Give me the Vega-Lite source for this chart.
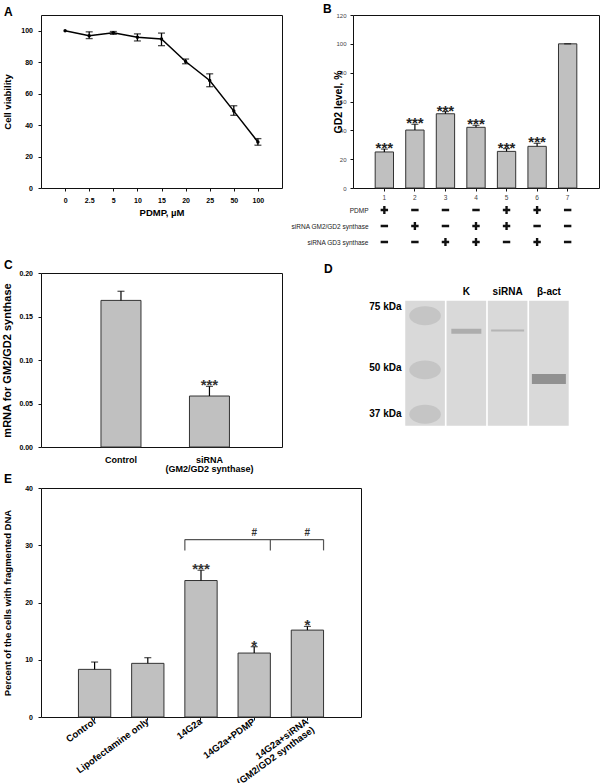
{
  "$schema": "https://vega.github.io/schema/vega-lite/v6.json",
  "padding": {"left": 0, "top": 2, "right": 0, "bottom": 0},
  "config": {
    "font": "Liberation Sans",
    "view": {"stroke": "#111", "strokeWidth": 1},
    "axis": {"grid": false, "domain": false, "labelOverlap": false, "labelFont": "Liberation Sans", "titleFont": "Liberation Sans", "labelColor": "#000", "titleColor": "#000", "tickColor": "#111", "titleFontWeight": "bold", "labelFontWeight": "bold"},
    "title": {"font": "Liberation Sans", "fontWeight": "bold", "color": "#000"}
  },
  "columns": 2,
  "align": "none",
  "bounds": "flush",
  "spacing": {"row": 14, "column": -8},
  "concat": [
    {
      "width": 241, "height": 173,
      "title": {"text": "A", "anchor": "start", "frame": "group", "dx": -37, "dy": 12.5, "offset": 0, "baseline": "alphabetic", "fontSize": 12},
      "data": {"values": [
        {"dose": "0", "v": 100, "lo": null, "hi": null},
        {"dose": "2.5", "v": 96.8, "lo": 95, "hi": 99.3},
        {"dose": "5", "v": 98.7, "lo": 97.7, "hi": 99.5},
        {"dose": "10", "v": 95.8, "lo": 93.5, "hi": 98},
        {"dose": "15", "v": 94.7, "lo": 90.5, "hi": 98.5},
        {"dose": "20", "v": 80.4, "lo": 79, "hi": 82},
        {"dose": "25", "v": 68.4, "lo": 64.4, "hi": 72.6},
        {"dose": "50", "v": 48.9, "lo": 46.2, "hi": 52.3},
        {"dose": "100", "v": 29.3, "lo": 27.2, "hi": 31.4}
      ]},
      "layer": [
        {
          "mark": {"type": "line", "color": "#000", "strokeWidth": 1.5},
          "encoding": {
            "x": {"field": "dose", "type": "ordinal", "scale": {"type": "point", "padding": 1, "domain": ["0", "2.5", "5", "10", "15", "20", "25", "50", "100"]},
                  "axis": {"title": "PDMP, µM", "titleFontSize": 9.5, "titleY": 27.7, "titleBaseline": "alphabetic", "labelAngle": 0, "labelFontSize": 7, "tickSize": 3, "labelPadding": 5.5, "labelOverlap": false}},
            "y": {"field": "v", "type": "quantitative", "scale": {"domain": [0, 110], "nice": false},
                  "axis": {"values": [0, 20, 40, 60, 80, 100], "tickCount": 12, "title": "Cell viability", "titleFontSize": 9.5, "titleX": -29, "labelFontSize": 7, "tickSize": 3, "labelPadding": 5.5, "labelOverlap": false, "labelFlush": false}}
          }
        },
        {
          "mark": {"type": "rule", "color": "#000", "strokeWidth": 1.3},
          "encoding": {"x": {"field": "dose", "type": "ordinal"}, "y": {"field": "lo", "type": "quantitative"}, "y2": {"field": "hi"}}
        },
        {
          "mark": {"type": "tick", "color": "#000", "thickness": 1.3, "size": 7},
          "encoding": {"x": {"field": "dose", "type": "ordinal"}, "y": {"field": "lo", "type": "quantitative"}}
        },
        {
          "mark": {"type": "tick", "color": "#000", "thickness": 1.3, "size": 7},
          "encoding": {"x": {"field": "dose", "type": "ordinal"}, "y": {"field": "hi", "type": "quantitative"}}
        },
        {
          "mark": {"type": "point", "filled": true, "color": "#000", "opacity": 1, "size": 12},
          "encoding": {"x": {"field": "dose", "type": "ordinal"}, "y": {"field": "v", "type": "quantitative"}}
        }
      ]
    },
    {
      "width": 246, "height": 173,
      "title": {"text": "B", "anchor": "start", "frame": "group", "dx": -30, "dy": 12.5, "offset": 0, "baseline": "alphabetic", "fontSize": 12},
      "data": {"values": [
        {"bar": "1", "v": 25, "hi": 27, "star": "***"},
        {"bar": "2", "v": 40.2, "hi": 44.2, "star": "***"},
        {"bar": "3", "v": 51.5, "hi": 53, "star": "***"},
        {"bar": "4", "v": 42.1, "hi": 43.5, "star": "***"},
        {"bar": "5", "v": 25.4, "hi": 27.3, "star": "***"},
        {"bar": "6", "v": 28.9, "hi": 31, "star": "***"},
        {"bar": "7", "v": 100, "hi": 100, "star": ""}
      ]},
      "layer": [
        {
          "mark": {"type": "bar", "fill": "#c0c0c0", "stroke": "#333", "strokeWidth": 1},
          "encoding": {
            "x": {"field": "bar", "type": "ordinal", "scale": {"type": "band", "paddingInner": 0.4, "paddingOuter": 0.726, "domain": ["1", "2", "3", "4", "5", "6", "7"]},
                  "axis": {"title": null, "labelAngle": 0, "labelFontSize": 6.5, "labelFontWeight": "normal", "labelColor": "#444", "tickSize": 3, "labelPadding": 3, "labelOverlap": false}},
            "y": {"field": "v", "type": "quantitative", "scale": {"domain": [0, 120], "nice": false},
                  "axis": {"values": [0, 20, 40, 60, 80, 100, 120], "tickCount": 14, "title": "GD2 level, %", "titleFontSize": 10.5, "titleX": -10, "labelFontSize": 6, "labelFontWeight": "normal", "labelColor": "#444", "tickSize": 3, "labelPadding": 4, "labelOverlap": false, "labelFlush": false}}
          }
        },
        {
          "mark": {"type": "rule", "color": "#000", "strokeWidth": 1.2},
          "encoding": {"x": {"field": "bar", "type": "ordinal"}, "y": {"field": "v", "type": "quantitative"}, "y2": {"field": "hi"}}
        },
        {
          "mark": {"type": "tick", "color": "#000", "thickness": 1.2, "size": 7},
          "encoding": {"x": {"field": "bar", "type": "ordinal"}, "y": {"field": "hi", "type": "quantitative"}}
        },
        {
          "mark": {"type": "text", "fontSize": 15, "fontWeight": "bold", "baseline": "alphabetic", "dy": 4, "color": "#222"},
          "encoding": {"x": {"field": "bar", "type": "ordinal"}, "y": {"field": "hi", "type": "quantitative"}, "text": {"field": "star"}}
        }
      ]
    },
    {
      "width": 241, "height": 57,
      "view": {"stroke": null},
      "data": {"values": [{"t": ""}]},
      "mark": {"type": "text"},
      "encoding": {"text": {"field": "t"}}
    },
    {
      "width": 246, "height": 57,
      "view": {"stroke": null},
      "data": {"values": [
        {"bar": "1", "row": "PDMP", "sign": "+"}, {"bar": "2", "row": "PDMP", "sign": "-"}, {"bar": "3", "row": "PDMP", "sign": "-"}, {"bar": "4", "row": "PDMP", "sign": "-"}, {"bar": "5", "row": "PDMP", "sign": "+"}, {"bar": "6", "row": "PDMP", "sign": "+"}, {"bar": "7", "row": "PDMP", "sign": "-"},
        {"bar": "1", "row": "siRNA GM2/GD2 synthase", "sign": "-"}, {"bar": "2", "row": "siRNA GM2/GD2 synthase", "sign": "+"}, {"bar": "3", "row": "siRNA GM2/GD2 synthase", "sign": "-"}, {"bar": "4", "row": "siRNA GM2/GD2 synthase", "sign": "+"}, {"bar": "5", "row": "siRNA GM2/GD2 synthase", "sign": "+"}, {"bar": "6", "row": "siRNA GM2/GD2 synthase", "sign": "-"}, {"bar": "7", "row": "siRNA GM2/GD2 synthase", "sign": "-"},
        {"bar": "1", "row": "siRNA GD3 synthase", "sign": "-"}, {"bar": "2", "row": "siRNA GD3 synthase", "sign": "-"}, {"bar": "3", "row": "siRNA GD3 synthase", "sign": "+"}, {"bar": "4", "row": "siRNA GD3 synthase", "sign": "+"}, {"bar": "5", "row": "siRNA GD3 synthase", "sign": "-"}, {"bar": "6", "row": "siRNA GD3 synthase", "sign": "+"}, {"bar": "7", "row": "siRNA GD3 synthase", "sign": "-"}
      ]},
      "mark": {"type": "point", "filled": true, "opacity": 1, "color": "#111", "size": 55, "strokeWidth": 0},
      "encoding": {
        "x": {"field": "bar", "type": "ordinal", "scale": {"type": "band", "paddingInner": 0.4, "paddingOuter": 0.726, "domain": ["1", "2", "3", "4", "5", "6", "7"]}, "axis": null},
        "y": {"field": "row", "type": "nominal", "scale": {"type": "point", "padding": 0.78125, "align": 0.32, "domain": ["PDMP", "siRNA GM2/GD2 synthase", "siRNA GD3 synthase"]},
              "axis": {"title": null, "ticks": false, "tickSize": 0, "labelPadding": -15, "labelAlign": "right", "labelFontSize": 6.5, "labelFontWeight": "normal", "labelColor": "#222", "labelOverlap": false, "labelLimit": 0}},
        "shape": {"field": "sign", "type": "nominal", "legend": null,
                  "scale": {"domain": ["+", "-"], "range": ["M-1,-0.32H-0.32V-1.1H0.32V-0.32H1V0.32H0.32V1.1H-0.32V0.32H-1Z", "M-1,-0.34H1V0.34H-1Z"]}}
      }
    },
    {
      "width": 241, "height": 174,
      "title": {"text": "C", "anchor": "start", "frame": "group", "dx": -37, "dy": 11.5, "offset": 0, "baseline": "alphabetic", "fontSize": 12},
      "data": {"values": [
        {"g": "Control", "v": 0.1685, "hi": 0.179, "star": ""},
        {"g": "siRNA\n(GM2/GD2 synthase)", "v": 0.0586, "hi": 0.0697, "star": "***"}
      ]},
      "layer": [
        {
          "mark": {"type": "bar", "fill": "#c0c0c0", "stroke": "#333", "strokeWidth": 1},
          "encoding": {
            "x": {"field": "g", "type": "nominal", "scale": {"domain": ["Control", "siRNA\n(GM2/GD2 synthase)"], "paddingInner": 0.548, "paddingOuter": 0.636, "align": 0.533},
                  "axis": {"title": null, "labelAngle": 0, "ticks": false, "tickSize": 0, "labelPadding": 8, "labelFontSize": 9, "labelLineHeight": 9.5, "labelLimit": 0, "labelExpr": "split(datum.label, '\\n')", "labelOverlap": false}},
            "y": {"field": "v", "type": "quantitative", "scale": {"domain": [0, 0.2], "nice": false},
                  "axis": {"values": [0, 0.05, 0.1, 0.15, 0.2], "tickCount": 10, "format": ".2f", "title": "mRNA for GM2/GD2 synthase", "titleFontSize": 11, "titleX": -29, "labelFontSize": 7, "tickSize": 3, "labelPadding": 5.5, "labelOverlap": false, "labelFlush": false}}
          }
        },
        {
          "mark": {"type": "rule", "color": "#000", "strokeWidth": 1.2},
          "encoding": {"x": {"field": "g", "type": "nominal"}, "y": {"field": "v", "type": "quantitative"}, "y2": {"field": "hi"}}
        },
        {
          "mark": {"type": "tick", "color": "#000", "thickness": 1.2, "size": 7},
          "encoding": {"x": {"field": "g", "type": "nominal"}, "y": {"field": "hi", "type": "quantitative"}}
        },
        {
          "mark": {"type": "text", "fontSize": 15, "fontWeight": "bold", "baseline": "alphabetic", "dy": 4, "color": "#333"},
          "encoding": {"x": {"field": "g", "type": "nominal"}, "y": {"field": "hi", "type": "quantitative"}, "text": {"field": "star"}}
        }
      ]
    },
    {
      "width": 246, "height": 174,
      "view": {"stroke": null},
      "title": {"text": "D", "anchor": "start", "frame": "group", "dx": -29, "dy": 11.5, "offset": 0, "baseline": "alphabetic", "fontSize": 12},
      "data": {"values": [
        {"lane": "M", "label": ""},
        {"lane": "K", "label": "K"},
        {"lane": "siRNA", "label": "siRNA"},
        {"lane": "β-act", "label": "β-act"}
      ]},
      "layer": [
        {
          "mark": {"type": "bar", "color": "#d9d9d9"},
          "encoding": {
            "x": {"field": "lane", "type": "nominal", "scale": {"domain": ["M", "K", "siRNA", "β-act"], "paddingInner": 0.04, "paddingOuter": 1.1425, "align": 0.633}, "axis": null},
            "y": {"datum": 77.7, "type": "quantitative", "scale": {"type": "log", "domain": [29.56, 93.3], "nice": false, "zero": false},
                  "axis": {"title": null, "values": [37, 50, 75], "tickCount": 10, "labelExpr": "datum.value + ' kDa'", "ticks": false, "tickSize": 0, "labelPadding": -48, "labelAlign": "right", "labelFontSize": 10, "labelOverlap": false}},
            "y2": {"datum": 34.0}
          }
        },
        {
          "data": {"values": [{"lane": "M", "kda": 70.3}, {"lane": "M", "kda": 49.2}, {"lane": "M", "kda": 36.7}]},
          "mark": {"type": "point", "filled": true, "color": "#bdbdbd", "opacity": 0.75, "size": 1000, "strokeWidth": 0, "shape": "M-1,0A1,0.6 0 1,0 1,0A1,0.6 0 1,0 -1,0Z"},
          "encoding": {"x": {"field": "lane", "type": "nominal"}, "y": {"field": "kda", "type": "quantitative"}}
        },
        {
          "data": {"values": [{"lane": "K", "kda": 63.5}]},
          "mark": {"type": "tick", "color": "#9a9a9a", "thickness": 5, "size": 30},
          "encoding": {"x": {"field": "lane", "type": "nominal"}, "y": {"field": "kda", "type": "quantitative"}}
        },
        {
          "data": {"values": [{"lane": "siRNA", "kda": 63.8}]},
          "mark": {"type": "tick", "color": "#a5a5a5", "thickness": 2, "size": 33},
          "encoding": {"x": {"field": "lane", "type": "nominal"}, "y": {"field": "kda", "type": "quantitative"}}
        },
        {
          "data": {"values": [{"lane": "β-act", "kda": 46.3}]},
          "mark": {"type": "tick", "color": "#727272", "thickness": 10, "size": 34},
          "encoding": {"x": {"field": "lane", "type": "nominal"}, "y": {"field": "kda", "type": "quantitative"}}
        },
        {
          "mark": {"type": "text", "fontSize": 10, "fontWeight": "bold", "baseline": "middle", "color": "#000"},
          "encoding": {"x": {"field": "lane", "type": "nominal"}, "y": {"datum": 82.3, "type": "quantitative"}, "text": {"field": "label"}}
        }
      ]
    },
    {
      "width": 241, "height": 13,
      "view": {"stroke": null},
      "data": {"values": [{"t": ""}]},
      "mark": {"type": "text"},
      "encoding": {"text": {"field": "t"}}
    },
    {
      "width": 10, "height": 10,
      "view": {"stroke": null},
      "data": {"values": [{"t": ""}]},
      "mark": {"type": "text"},
      "encoding": {"text": {"field": "t"}}
    },
    {
      "width": 320, "height": 229,
      "title": {"text": "E", "anchor": "start", "frame": "group", "dx": -37, "dy": 10.5, "offset": 0, "baseline": "alphabetic", "fontSize": 12},
      "data": {"values": [
        {"g": "Control", "v": 8.32, "hi": 9.6, "star": ""},
        {"g": "Lipofectamine only", "v": 9.37, "hi": 10.36, "star": ""},
        {"g": "14G2a", "v": 23.84, "hi": 25.64, "star": "***"},
        {"g": "14G2a+PDMP", "v": 11.17, "hi": 12.28, "star": "*"},
        {"g": "14G2a+siRNA\n(GM2/GD2 synthase)", "v": 15.18, "hi": 15.82, "star": "*"}
      ]},
      "layer": [
        {
          "mark": {"type": "bar", "fill": "#c0c0c0", "stroke": "#333", "strokeWidth": 1},
          "encoding": {
            "x": {"field": "g", "type": "nominal", "scale": {"domain": ["Control", "Lipofectamine only", "14G2a", "14G2a+PDMP", "14G2a+siRNA\n(GM2/GD2 synthase)"], "paddingInner": 0.393, "paddingOuter": 0.704},
                  "axis": {"title": null, "labelAngle": -36, "labelAlign": "right", "labelBaseline": "middle", "tickSize": 3, "labelPadding": 0, "labelFontSize": 9.5, "labelLineHeight": 10, "labelLimit": 0, "labelExpr": "split(datum.label, '\\n')", "labelOverlap": false}},
            "y": {"field": "v", "type": "quantitative", "scale": {"domain": [0, 40], "nice": false},
                  "axis": {"values": [0, 10, 20, 30, 40], "tickCount": 10, "title": "Percent of the cells with fragmented DNA", "titleFontSize": 9.5, "titleX": -29, "labelFontSize": 7, "tickSize": 3, "labelPadding": 5.5, "labelOverlap": false, "labelFlush": false}}
          }
        },
        {
          "mark": {"type": "rule", "color": "#000", "strokeWidth": 1.2},
          "encoding": {"x": {"field": "g", "type": "nominal"}, "y": {"field": "v", "type": "quantitative"}, "y2": {"field": "hi"}}
        },
        {
          "mark": {"type": "tick", "color": "#000", "thickness": 1.2, "size": 7},
          "encoding": {"x": {"field": "g", "type": "nominal"}, "y": {"field": "hi", "type": "quantitative"}}
        },
        {
          "mark": {"type": "text", "fontSize": 15, "fontWeight": "bold", "baseline": "alphabetic", "dy": 4, "color": "#333"},
          "encoding": {"x": {"field": "g", "type": "nominal"}, "y": {"field": "hi", "type": "quantitative"}, "text": {"field": "star"}}
        },
        {
          "data": {"values": [{"from": "14G2a", "to": "14G2a+siRNA\n(GM2/GD2 synthase)", "lev": 31}]},
          "mark": {"type": "rule", "color": "#555", "strokeWidth": 1.2},
          "encoding": {"x": {"field": "from", "type": "nominal", "bandPosition": 0}, "x2": {"field": "to", "bandPosition": 1}, "y": {"field": "lev", "type": "quantitative"}}
        },
        {
          "data": {"values": [{"at": "14G2a", "top": 31, "bot": 29.1}]},
          "mark": {"type": "rule", "color": "#555", "strokeWidth": 1.2},
          "encoding": {"x": {"field": "at", "type": "nominal", "bandPosition": 0}, "y": {"field": "top", "type": "quantitative"}, "y2": {"field": "bot"}}
        },
        {
          "data": {"values": [{"at": "14G2a+PDMP", "top": 31, "bot": 29.1}, {"at": "14G2a+siRNA\n(GM2/GD2 synthase)", "top": 31, "bot": 29.1}]},
          "mark": {"type": "rule", "color": "#555", "strokeWidth": 1.2},
          "encoding": {"x": {"field": "at", "type": "nominal", "bandPosition": 1}, "y": {"field": "top", "type": "quantitative"}, "y2": {"field": "bot"}}
        },
        {
          "data": {"values": [{"g": "14G2a+PDMP", "lev": 31}, {"g": "14G2a+siRNA\n(GM2/GD2 synthase)", "lev": 31}]},
          "mark": {"type": "text", "fontSize": 10, "fontWeight": "bold", "baseline": "alphabetic", "dy": -3.3, "color": "#333"},
          "encoding": {"x": {"field": "g", "type": "nominal"}, "y": {"field": "lev", "type": "quantitative"}, "text": {"value": "#"}}
        }
      ]
    }
  ]
}
